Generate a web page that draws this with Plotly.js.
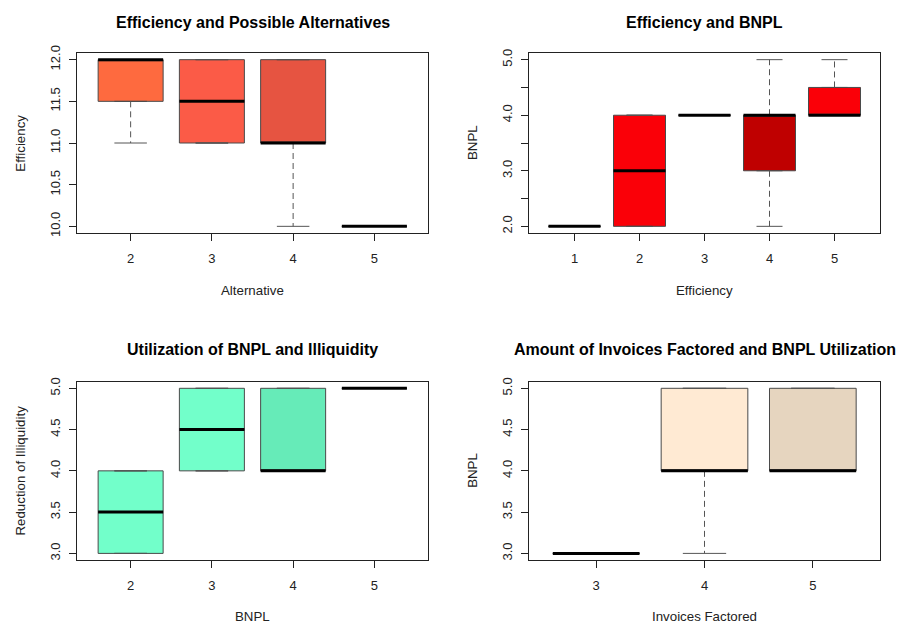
<!DOCTYPE html>
<html>
<head>
<meta charset="utf-8">
<script src="https://cdn.plot.ly/plotly-3.0.1.min.js"></script>
<style>
  html, body { margin: 0; padding: 0; background: #ffffff; }
  #chart { width: 898px; height: 623px; }
</style>
</head>
<body>
<div id="chart"></div>
<script>
// Panel 1: Efficiency by possible alternative
const altGroups   = ['2', '3', '4', '5'];
const altQ1       = [11.5, 11.0, 11.0, 10.0];
const altMedian   = [12.0, 11.5, 11.0, 10.0];
const altQ3       = [12.0, 12.0, 12.0, 10.0];
const altLow      = [11.0, 11.0, 10.0, 10.0];
const altHigh     = [12.0, 12.0, 12.0, 10.0];
const altColors   = ['#fe6a3f', '#fb5b47', '#e65441', '#e65441'];

// Panel 2: BNPL by efficiency
const effGroups   = ['1', '2', '3', '4', '5'];
const effQ1       = [2.0, 2.0, 4.0, 3.0, 4.0];
const effMedian   = [2.0, 3.0, 4.0, 4.0, 4.0];
const effQ3       = [2.0, 4.0, 4.0, 4.0, 4.5];
const effLow      = [2.0, 2.0, 4.0, 2.0, 4.0];
const effHigh     = [2.0, 4.0, 4.0, 5.0, 5.0];
const effColors   = ['#fa0008', '#fa0008', '#fa0008', '#bf0000', '#fa0008'];

// Panel 3: Reduction of illiquidity by BNPL utilization
const bnplGroups  = ['2', '3', '4', '5'];
const bnplQ1      = [3.0, 4.0, 4.0, 5.0];
const bnplMedian  = [3.5, 4.5, 4.0, 5.0];
const bnplQ3      = [4.0, 5.0, 5.0, 5.0];
const bnplLow     = [3.0, 4.0, 4.0, 5.0];
const bnplHigh    = [4.0, 5.0, 5.0, 5.0];
const bnplColors  = ['#72ffca', '#72ffca', '#66ebb8', '#66ebb8'];

// Panel 4: BNPL by amount of invoices factored
const invGroups   = ['3', '4', '5'];
const invQ1       = [3.0, 4.0, 4.0];
const invMedian   = [3.0, 4.0, 4.0];
const invQ3       = [3.0, 5.0, 5.0];
const invLow      = [3.0, 3.0, 4.0];
const invHigh     = [3.0, 5.0, 5.0];
const invColors   = ['#ffead3', '#ffead3', '#e6d5bf'];

const W = 898, H = 623;
const fx = p => p / W;
const fy = p => 1 - p / H;

const FONT = 'Liberation Sans, Arial, Helvetica, sans-serif';

const panels = [
  { groups: altGroups, q1: altQ1, med: altMedian, q3: altQ3, lo: altLow, hi: altHigh, colors: altColors,
    title: 'Efficiency and Possible Alternatives', xlab: 'Alternative', ylab: 'Efficiency',
    yLabelStep: 0.5, box: [77, 428, 53, 233], titleY: 22.7, xlabY: 290, ylabX: 20.7 },
  { groups: effGroups, q1: effQ1, med: effMedian, q3: effQ3, lo: effLow, hi: effHigh, colors: effColors,
    title: 'Efficiency and BNPL', xlab: 'Efficiency', ylab: 'BNPL',
    yLabelStep: 1.0, box: [529, 880, 53, 233], titleY: 22.7, xlabY: 290, ylabX: 473 },
  { groups: bnplGroups, q1: bnplQ1, med: bnplMedian, q3: bnplQ3, lo: bnplLow, hi: bnplHigh, colors: bnplColors,
    title: 'Utilization of BNPL and Illiquidity', xlab: 'BNPL', ylab: 'Reduction of Illiquidity',
    yLabelStep: 0.5, box: [77, 428, 381.7, 560], titleY: 349.3, xlabY: 616.7, ylabX: 20.7 },
  { groups: invGroups, q1: invQ1, med: invMedian, q3: invQ3, lo: invLow, hi: invHigh, colors: invColors,
    title: 'Amount of Invoices Factored and BNPL Utilization', xlab: 'Invoices Factored', ylab: 'BNPL',
    yLabelStep: 0.5, box: [529, 880, 381.7, 560], titleY: 349.3, xlabY: 616.7, ylabX: 473 }
];

const traces = [];
const layout = {
  width: W, height: H,
  margin: { l: 0, r: 0, t: 0, b: 0 },
  paper_bgcolor: '#ffffff', plot_bgcolor: '#ffffff',
  showlegend: false,
  font: { family: FONT, color: '#222' },
  annotations: []
};

const BOXW = 0.8, CAPW = 0.4;

panels.forEach((p, i) => {
  const n = p.groups.length;
  const xa = 'x' + (i === 0 ? '' : i + 1);
  const ya = 'y' + (i === 0 ? '' : i + 1);
  const pos = p.groups.map((g, j) => j + 1);

  pos.forEach((x, j) => {
    // box body
    traces.push({
      type: 'box', xaxis: xa, yaxis: ya,
      x: [x], q1: [p.q1[j]], median: [p.med[j]], q3: [p.q3[j]],
      lowerfence: [p.q1[j]], upperfence: [p.q3[j]],
      width: BOXW, fillcolor: p.colors[j],
      line: { color: '#4a4a4a', width: 1 },
      boxpoints: false, hoverinfo: 'skip'
    });
    // dashed whiskers
    const wx = [], wy = [];
    if (p.hi[j] > p.q3[j]) { wx.push(x, x, null); wy.push(p.q3[j], p.hi[j], null); }
    if (p.lo[j] < p.q1[j]) { wx.push(x, x, null); wy.push(p.q1[j], p.lo[j], null); }
    if (wx.length) {
      traces.push({
        type: 'scatter', mode: 'lines', xaxis: xa, yaxis: ya,
        x: wx, y: wy, line: { color: '#555', width: 1, dash: '6px,4px' }, hoverinfo: 'skip'
      });
    }
    // staples
    traces.push({
      type: 'scatter', mode: 'lines', xaxis: xa, yaxis: ya,
      x: [x - CAPW / 2, x + CAPW / 2, null, x - CAPW / 2, x + CAPW / 2],
      y: [p.hi[j], p.hi[j], null, p.lo[j], p.lo[j]],
      line: { color: '#555', width: 1 }, hoverinfo: 'skip'
    });
    // thick median
    traces.push({
      type: 'scatter', mode: 'lines', xaxis: xa, yaxis: ya,
      x: [x - BOXW / 2, x + BOXW / 2], y: [p.med[j], p.med[j]],
      line: { color: '#000', width: 3 }, hoverinfo: 'skip'
    });
  });

  const yMin = Math.min(...p.lo), yMax = Math.max(...p.hi);
  const ySpan = yMax - yMin;
  const yTicks = [], yText = [];
  for (let v = yMin; v <= yMax + 1e-9; v += 0.5) {
    yTicks.push(v);
    const onLabel = Math.abs((v - yMin) / p.yLabelStep - Math.round((v - yMin) / p.yLabelStep)) < 1e-9;
    yText.push(onLabel ? v.toFixed(1) : '');
  }

  const [l, r, t, b] = p.box;
  const axCommon = {
    showline: true, mirror: true, linecolor: '#222', linewidth: 1,
    ticks: 'outside', ticklen: 7, tickwidth: 1, tickcolor: '#222',
    showgrid: false, zeroline: false, fixedrange: true,
    tickfont: { family: FONT, size: 13, color: '#222' }
  };
  layout['xaxis' + (i === 0 ? '' : i + 1)] = Object.assign({}, axCommon, {
    anchor: ya, domain: [fx(l), fx(r)],
    range: [0.5 - 0.04 * n, n + 0.5 + 0.04 * n],
    tickmode: 'array', tickvals: pos, ticktext: p.groups,
    ticklabelstandoff: 6
  });
  layout['yaxis' + (i === 0 ? '' : i + 1)] = Object.assign({}, axCommon, {
    anchor: xa, domain: [fy(b), fy(t)],
    range: [yMin - 0.04 * ySpan, yMax + 0.04 * ySpan],
    tickmode: 'array', tickvals: yTicks, ticktext: yText, tickangle: -90,
    ticklabelstandoff: 4
  });

  const cx = fx((l + r) / 2);
  layout.annotations.push(
    { text: '<b>' + p.title + '</b>', xref: 'paper', yref: 'paper', x: cx, y: fy(p.titleY),
      xanchor: 'center', yanchor: 'middle', showarrow: false,
      font: { family: FONT, size: 16, color: '#000' } },
    { text: p.xlab, xref: 'paper', yref: 'paper', x: cx, y: fy(p.xlabY),
      xanchor: 'center', yanchor: 'middle', showarrow: false,
      font: { family: FONT, size: 13.3, color: '#222' } },
    { text: p.ylab, xref: 'paper', yref: 'paper', x: fx(p.ylabX), y: fy((t + b) / 2),
      xanchor: 'center', yanchor: 'middle', showarrow: false, textangle: -90,
      font: { family: FONT, size: 13.3, color: '#222' } }
  );
});

Plotly.newPlot('chart', traces, layout, { displayModeBar: false, staticPlot: true });
</script>
</body>
</html>
